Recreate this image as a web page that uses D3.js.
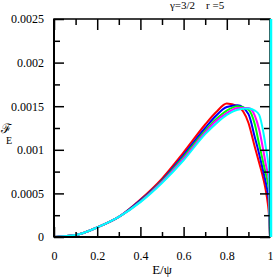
<!DOCTYPE html>
<html>
<head>
<meta charset="utf-8">
<script src="https://cdn.jsdelivr.net/npm/d3@7"></script>
<style>
  body { margin: 0; background: #fff; }
  svg text { font-family: "Liberation Serif", "Times New Roman", "DejaVu Serif", serif !important; }
</style>
</head>
<body>
<div id="chart"></div>
<script>
// sample points along E/psi
var energy = [0, 0.1, 0.2, 0.3, 0.4, 0.5, 0.6, 0.7, 0.75, 0.8, 0.85, 0.9, 0.93, 0.95, 0.97, 0.98, 0.99, 0.995, 1];
var redVals     = [0, 0.000022, 0.00011, 0.00023, 0.00043, 0.00067, 0.00097, 0.00129, 0.00143, 0.00153, 0.00150, 0.00131, 0.00103, 0.00085, 0.00066, 0.00054, 0.00038, 0.00026, 0];
var blueVals    = [0, 0.000022, 0.00011, 0.00023, 0.00042, 0.00065, 0.00094, 0.00125, 0.00139, 0.00149, 0.00151, 0.00141, 0.00114, 0.00095, 0.00074, 0.00063, 0.00050, 0.00039, 0];
var greenVals   = [0, 0.000022, 0.00011, 0.00023, 0.00041, 0.00064, 0.00092, 0.00122, 0.00135, 0.00145, 0.00150, 0.00146, 0.00129, 0.00106, 0.00084, 0.00073, 0.00062, 0.00054, 0];
var magentaVals = [0, 0.000022, 0.00011, 0.00023, 0.000405, 0.00063, 0.00090, 0.00120, 0.00133, 0.00142, 0.00148, 0.00148, 0.00139, 0.00123, 0.00098, 0.00084, 0.00072, 0.00063, 0];
var cyanVals    = [0, 0.000022, 0.00011, 0.00023, 0.00040, 0.00062, 0.00088, 0.00118, 0.00130, 0.00140, 0.00146, 0.001475, 0.00145, 0.00140, 0.00119, 0.00104, 0.00088, 0.00078, 0];
// cyan goes off the top at E = 1
var cyanSpike = [[1, 0], [1, 0.0026]];

var seriesColors = ["#ff0000", "#0000ff", "#00ff00", "#ff00ff", "#00ffff"];
var seriesVals = [redVals, blueVals, greenVals, magentaVals, cyanVals];

var xTicks = [0, 0.2, 0.4, 0.6, 0.8, 1];
var xTickLabels = ["0", "0.2", "0.4", "0.6", "0.8", "1"];
var xMinor = [0.1, 0.3, 0.5, 0.7, 0.9];
var yTicks = [0, 0.0005, 0.001, 0.0015, 0.002, 0.0025];
var yTickLabels = ["0", "0.0005", "0.001", "0.0015", "0.002", "0.0025"];
var yMinor = [0.00025, 0.00075, 0.00125, 0.00175, 0.00225];

var W = 273, H = 277;
var margin = {top: 19, right: 3, bottom: 40, left: 54},
    width = W - margin.left - margin.right,
    height = H - margin.top - margin.bottom;

var svg = d3.select("#chart").append("svg")
    .attr("width", W)
    .attr("height", H)
  .append("g")
    .attr("transform", "translate(" + margin.left + "," + margin.top + ")");

var x = d3.scaleLinear().domain([0, 1]).range([0, width]);
var y = d3.scaleLinear().domain([0, 0.0025]).range([height, 0]);

svg.append("defs").append("clipPath").attr("id", "plotclip")
  .append("rect").attr("x", -2).attr("y", 0).attr("width", width + 4).attr("height", height);

// curves
var line = d3.line()
    .x(function(d) { return x(d[0]); })
    .y(function(d) { return y(d[1]); })
    .curve(d3.curveMonotoneX);

var curves = svg.append("g").attr("clip-path", "url(#plotclip)");
seriesVals.forEach(function(vals, i) {
  var pts = energy.map(function(e, j) { return [e, vals[j]]; });
  curves.append("path")
    .datum(pts)
    .attr("fill", "none")
    .attr("stroke", seriesColors[i])
    .attr("stroke-width", 2)
    .attr("d", line);
});

// frame
function frame(axis, tf) {
  var g = svg.append("g").attr("transform", tf).call(axis);
  g.select(".domain").remove();
  g.selectAll(".tick line").attr("stroke", "#000").attr("stroke-width", 1.5);
  g.selectAll("text").attr("font-size", "12px").attr("fill", "#000");
  return g;
}

frame(d3.axisBottom(x).tickValues(xTicks).tickSize(-10).tickPadding(14)
  .tickFormat(function(d, i) { return xTickLabels[i]; }), "translate(0," + height + ")");
frame(d3.axisBottom(x).tickValues(xMinor).tickSize(-5).tickFormat(""), "translate(0," + height + ")");
frame(d3.axisTop(x).tickValues(xTicks).tickSize(-11).tickFormat(""), "translate(0,0)");
frame(d3.axisTop(x).tickValues(xMinor).tickSize(-6).tickFormat(""), "translate(0,0)");
frame(d3.axisLeft(y).tickValues(yTicks).tickSize(-10).tickPadding(10)
  .tickFormat(function(d, i) { return yTickLabels[i]; }), "translate(0,0)");
frame(d3.axisLeft(y).tickValues(yMinor).tickSize(-6).tickFormat(""), "translate(0,0)");
frame(d3.axisRight(y).tickValues(yTicks).tickSize(-10).tickFormat(""), "translate(" + width + ",0)");
frame(d3.axisRight(y).tickValues(yMinor).tickSize(-6).tickFormat(""), "translate(" + width + ",0)");

svg.append("rect")
  .attr("x", 0).attr("y", 0).attr("width", width).attr("height", height)
  .attr("fill", "none").attr("stroke", "#000").attr("stroke-width", 1.5);
svg.append("line").attr("x1", 0).attr("x2", 0).attr("y1", 0).attr("y2", height)
  .attr("stroke", "#000").attr("stroke-width", 2);
svg.append("line").attr("x1", 0).attr("x2", width).attr("y1", height).attr("y2", height)
  .attr("stroke", "#000").attr("stroke-width", 2);

// cyan edge at E = 1
svg.append("path")
  .datum(cyanSpike)
  .attr("fill", "none")
  .attr("stroke", "#00ffff")
  .attr("stroke-width", 2.5)
  .attr("clip-path", "url(#plotclip)")
  .attr("transform", "translate(1,0)")
  .attr("d", d3.line().x(function(d) { return x(d[0]); }).y(function(d) { return y(d[1]); }));

// labels
svg.append("text")
  .attr("x", 116)
  .attr("y", -10)
  .attr("font-size", "11px")
  .attr("fill", "#000")
  .attr("xml:space", "preserve")
  .text("\u03b3=3/2    r =5");

svg.append("text")
  .attr("x", x(0.5))
  .attr("y", height + 37)
  .attr("text-anchor", "middle")
  .attr("font-size", "13px")
  .attr("fill", "#000")
  .text("E/\u03c8");

svg.append("text")
  .attr("x", -margin.left + 1)
  .attr("y", 114)
  .attr("font-size", "13px")
  .attr("fill", "#000")
  .text("\u2131");
svg.append("text")
  .attr("x", -margin.left + 6)
  .attr("y", 125)
  .attr("font-size", "10px")
  .attr("fill", "#000")
  .text("E");
</script>
</body>
</html>
